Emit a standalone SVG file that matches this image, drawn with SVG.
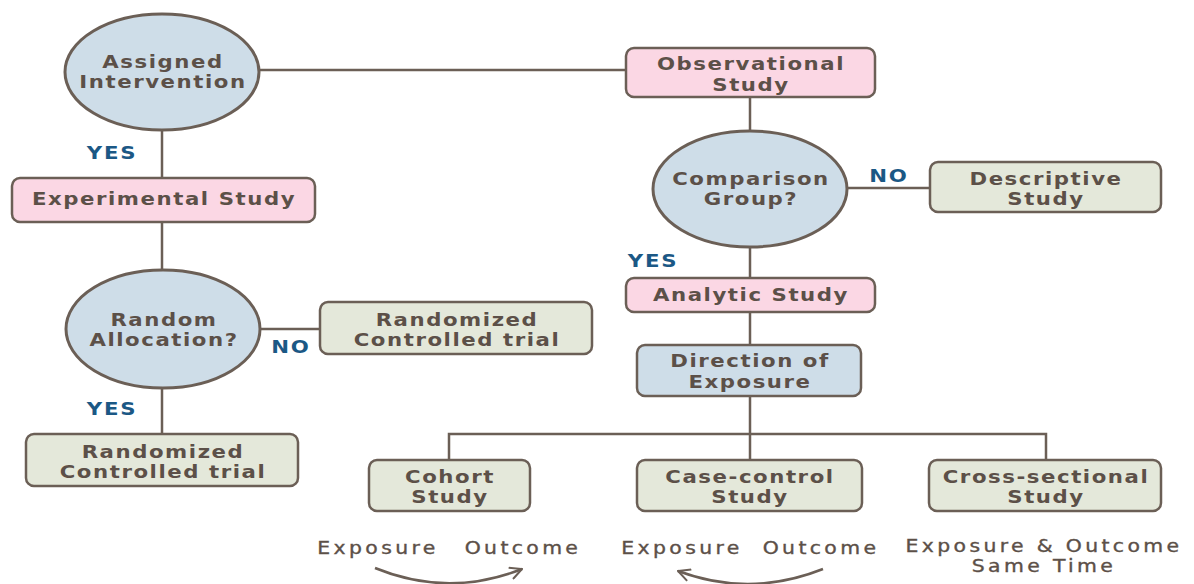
<svg xmlns="http://www.w3.org/2000/svg" width="1194" height="584" viewBox="0 0 1194 584">
<defs>
<style>
.bg{fill:#ffffff}
.ell{fill:#cedde8;stroke:#6b5f56;stroke-width:3}
.pink{fill:#fbd7e4;stroke:#6b5f56;stroke-width:2.5}
.green{fill:#e4e8da;stroke:#6b5f56;stroke-width:2.5}
.blue{fill:#cedde8;stroke:#6b5f56;stroke-width:2.5}
.con{fill:none;stroke:#6b5f56;stroke-width:2.5}
.t,.lab,.b{font-family:"DejaVu Sans","Liberation Sans",sans-serif;text-anchor:middle;transform-box:fill-box;transform-origin:center}
.t{font-weight:bold;font-size:17px;fill:#5c5048;letter-spacing:1.25px;transform:scaleX(1.25)}
.lab{font-weight:bold;font-size:17px;fill:#1b5885;letter-spacing:1.5px;transform:scaleX(1.25)}
.b{font-size:17px;fill:#5c5048;letter-spacing:2.8px;transform:scaleX(1.2);stroke:#5c5048;stroke-width:0.35}
</style>
<marker id="arr" viewBox="0 0 14 14" refX="13" refY="7" markerWidth="14" markerHeight="14" markerUnits="userSpaceOnUse" orient="auto">
<path d="M1,1 L13,7 L1,13" fill="none" stroke="#6b5f56" stroke-width="2"/>
</marker>
</defs>
<rect class="bg" x="0" y="0" width="1194" height="584"/>
<g id="connectors">
<line class="con" x1="259" y1="70" x2="626" y2="70"/>
<line class="con" x1="162" y1="130" x2="162" y2="178"/>
<line class="con" x1="162" y1="222" x2="162" y2="270"/>
<line class="con" x1="260" y1="329" x2="320" y2="329"/>
<line class="con" x1="162" y1="387" x2="162" y2="434"/>
<line class="con" x1="750" y1="97" x2="750" y2="132"/>
<line class="con" x1="847" y1="188" x2="930" y2="188"/>
<line class="con" x1="750" y1="247" x2="750" y2="278"/>
<line class="con" x1="750" y1="312" x2="750" y2="345"/>
<line class="con" x1="750" y1="396" x2="750" y2="460"/>
<polyline class="con" points="449,460 449,434 1046,434 1046,460"/>
<path class="con" d="M375,568 Q448,598 522,569" marker-end="url(#arr)"/>
<path class="con" d="M823,569 Q750,598 678,571" marker-end="url(#arr)"/>
</g>
<g id="labels">
<text class="lab" x="112" y="159">YES</text>
<text class="lab" x="291" y="353">NO</text>
<text class="lab" x="112" y="415">YES</text>
<text class="lab" x="889" y="182">NO</text>
<text class="lab" x="653" y="267">YES</text>
</g>
<g id="assigned">
<ellipse class="ell" cx="162" cy="72" rx="97" ry="58"/>
<text class="t" x="163" y="68">Assigned</text>
<text class="t" x="163" y="88">Intervention</text>
</g>
<g id="observational">
<rect class="pink" x="626" y="48" width="249" height="49" rx="8"/>
<text class="t" x="751" y="70">Observational</text>
<text class="t" x="751" y="91">Study</text>
</g>
<g id="experimental">
<rect class="pink" x="12" y="178" width="303" height="44" rx="8"/>
<text class="t" x="164" y="205">Experimental Study</text>
</g>
<g id="random">
<ellipse class="ell" cx="163" cy="329" rx="97" ry="59"/>
<text class="t" x="164" y="326">Random</text>
<text class="t" x="164" y="346">Allocation?</text>
</g>
<g id="rct-no">
<rect class="green" x="320" y="302" width="272" height="52" rx="8"/>
<text class="t" x="457" y="326">Randomized</text>
<text class="t" x="457" y="346">Controlled trial</text>
</g>
<g id="rct-yes">
<rect class="green" x="26" y="434" width="272" height="52" rx="8"/>
<text class="t" x="163" y="458">Randomized</text>
<text class="t" x="163" y="478">Controlled trial</text>
</g>
<g id="comparison">
<ellipse class="ell" cx="750" cy="189" rx="97" ry="58"/>
<text class="t" x="751" y="185">Comparison</text>
<text class="t" x="751" y="205">Group?</text>
</g>
<g id="descriptive">
<rect class="green" x="930" y="162" width="231" height="50" rx="8"/>
<text class="t" x="1046" y="185">Descriptive</text>
<text class="t" x="1046" y="205">Study</text>
</g>
<g id="analytic">
<rect class="pink" x="626" y="278" width="249" height="34" rx="8"/>
<text class="t" x="751" y="301">Analytic Study</text>
</g>
<g id="direction">
<rect class="blue" x="637" y="345" width="224" height="51" rx="8"/>
<text class="t" x="750" y="367">Direction of</text>
<text class="t" x="750" y="388">Exposure</text>
</g>
<g id="cohort">
<rect class="green" x="369" y="460" width="161" height="51" rx="8"/>
<text class="t" x="450" y="483">Cohort</text>
<text class="t" x="450" y="503">Study</text>
</g>
<g id="casecontrol">
<rect class="green" x="637" y="460" width="225" height="51" rx="8"/>
<text class="t" x="750" y="483">Case-control</text>
<text class="t" x="750" y="503">Study</text>
</g>
<g id="crosssectional">
<rect class="green" x="929" y="460" width="232" height="51" rx="8"/>
<text class="t" x="1046" y="483">Cross-sectional</text>
<text class="t" x="1046" y="503">Study</text>
</g>
<g id="bottom-notes">
<text class="b" x="378" y="554">Exposure</text>
<text class="b" x="523" y="554">Outcome</text>
<text class="b" x="682" y="554">Exposure</text>
<text class="b" x="821" y="554">Outcome</text>
<text class="b" x="1044" y="552">Exposure &amp; Outcome</text>
<text class="b" x="1044" y="572">Same Time</text>
</g>
</svg>
